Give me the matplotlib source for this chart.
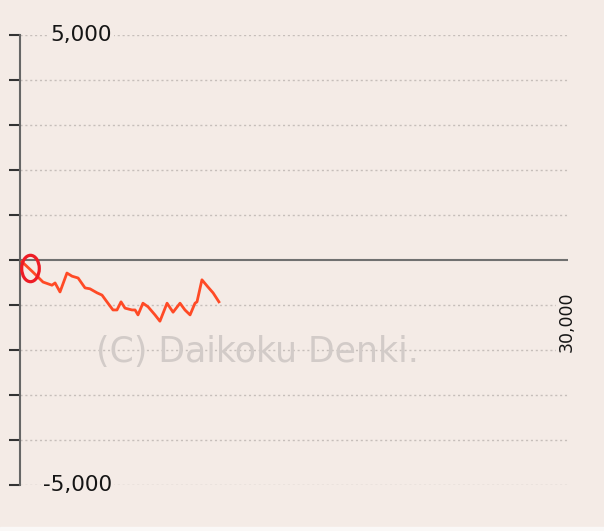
import numpy as np
import matplotlib.pyplot as plt
from matplotlib.path import Path
from matplotlib.transforms import Affine2D
from matplotlib.patches import Rectangle

# game count vs. difference (medals)
games = [110, 710, 1260, 1750, 1920, 2190, 2570, 2850, 3180, 3560, 3830, 4220,
         4490, 4760, 5090, 5310, 5530, 5750, 6130, 6300, 6460, 6730, 7010, 7390,
         7660, 8050, 8380, 8760, 9030, 9310, 9580, 9690, 9960, 10290, 10570, 10890]
diff = [-40, -270, -490, -560, -510, -710, -290, -360, -400, -620, -640, -730,
        -780, -930, -1110, -1110, -930, -1070, -1110, -1110, -1220, -960, -1040, -1220,
        -1360, -960, -1160, -960, -1110, -1220, -960, -930, -440, -600, -730, -930]

start_x, start_y = 550, -180
y_ticks = list(range(-5000, 5001, 1000))
y_labels = {5000: '5,000', -5000: '-5,000'}
x_max = 30000
x_label = '30,000'
watermark = '(C) Daikoku Denki.'

bg = '#F4EBE6'

fig = plt.figure(figsize=(6.04, 5.31), dpi=100, facecolor=bg)
ax = fig.add_axes([20/604, 46/531, 548/604, 450/531], facecolor=bg)
fig.add_artist(Rectangle((0, 0), 1, 4/531, transform=fig.transFigure,
                         color='#FAF8F7', zorder=0))

ax.set_xlim(0, x_max)
ax.set_ylim(-5000, 5000)

for v in y_ticks:
    if v != 0:
        ax.axhline(v, color='#C6BEBA', lw=1.0, ls=(0, (1.5, 2)), zorder=1)
ax.axhline(0, color='#707070', lw=1.5, zorder=2)

ax.plot(games, diff, color='#FF4A26', lw=2.0, zorder=3)

ell = Path.unit_circle().transformed(Affine2D().scale(1, 1.5))
ax.plot([start_x], [start_y], marker=ell, markersize=19, fillstyle='none',
        markeredgecolor='#EE1C25', markeredgewidth=2.3, zorder=4, clip_on=False)

for v, s in y_labels.items():
    ax.annotate(s, xy=(0, v), xytext=(92, 0), textcoords='offset pixels',
                ha='right', va='center', fontsize=15.5, color='#151515',
                bbox=dict(boxstyle='square,pad=0.1', fc=bg, ec='none'), zorder=5)

ax.annotate(x_label, xy=(x_max, 0), xytext=(-1, -32), textcoords='offset pixels',
            ha='center', va='top', rotation=90, fontsize=12.5, color='#151515',
            bbox=dict(boxstyle='square,pad=0.1', fc=bg, ec='none'), zorder=5,
            annotation_clip=False)

ax.text(0.4325, 0.2956, watermark, transform=ax.transAxes, ha='center', va='center',
        fontsize=25, color='#D2CBC8', zorder=2)

ax.set_yticks(y_ticks)
ax.set_yticklabels([])
ax.set_xticks([])
ax.tick_params(axis='y', direction='out', length=8, width=1.5, colors='#333333')
for s in ['top', 'right', 'bottom']:
    ax.spines[s].set_visible(False)
ax.spines['left'].set_color('#666666')
ax.spines['left'].set_linewidth(1.5)

plt.savefig('out.png', dpi=100, facecolor=bg)
